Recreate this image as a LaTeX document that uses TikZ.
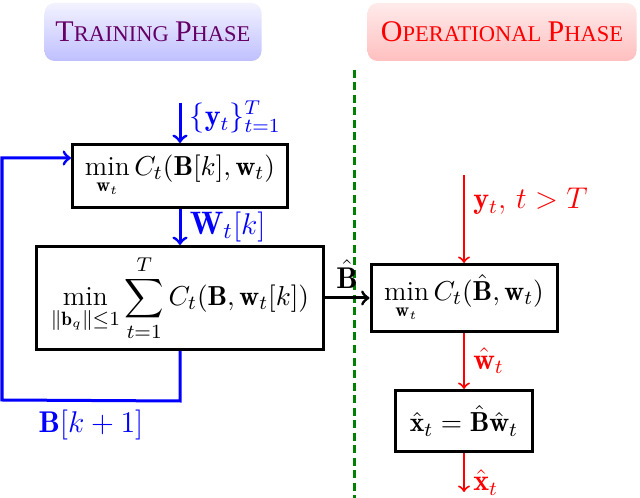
\documentclass[tikz,border=0pt]{standalone}
\usepackage{amsmath}
\usepackage{fontspec}
\newfontfamily\phasefont{Liberation Serif}
\newcommand{\fakesc}[2]{{\fontsize{12}{12}\selectfont #1}{\fontsize{9}{9}\selectfont #2}}
\begin{document}
\begin{tikzpicture}[x = .4pt, y = -.4pt,
    box/.style = {draw, very thick, inner sep = 0pt, font = \fontsize{11}{13}\selectfont},
    blueflow/.style = {very thick, blue, ->},
    redflow/.style = {thick, red, ->}]
      \useasboundingbox (0,0) rectangle (640,498);
      \node [rounded corners = 4pt, top color = blue!5, bottom color = blue!25, minimum width = 86.8pt, minimum height = 23.2pt, text = violet!80!black] (trainhead) at (153,32) {\phasefont\fakesc{T}{RAINING} \fakesc{P}{HASE}};
      \node [rounded corners = 4pt, top color = red!8, bottom color = red!25, minimum width = 107.6pt, minimum height = 23.2pt, text = red] (ophead) at (502,32) {\phasefont\fakesc{O}{PERATIONAL} \fakesc{P}{HASE}};
      \draw [very thick, green!50!black, dash pattern = on 3.2pt off 1.8pt] (354,70) -- (354,498);
      \node [box, minimum width = 86pt, minimum height = 25.2pt] (sparse) at (180,176) {$\displaystyle\min_{\mathbf{w}_t} C_t(\mathbf{B}[k], \mathbf{w}_t)$};
      \node [box, minimum width = 114.4pt, minimum height = 41.2pt] (dict) at (180,298) {$\displaystyle\min_{\|\mathbf{b}_q\|\leq 1} \sum_{t=1}^{T} C_t(\mathbf{B}, \mathbf{w}_t[k])$};
      \node [box, minimum width = 74.4pt, minimum height = 26.8pt] (opsparse) at (464,298) {$\displaystyle\min_{\mathbf{w}_t} C_t(\hat{\mathbf{B}}, \mathbf{w}_t)$};
      \node [box, minimum width = 54.8pt, minimum height = 24.4pt] (recon) at (464,421) {$\hat{\mathbf{x}}_t = \hat{\mathbf{B}}\hat{\mathbf{w}}_t$};
      \coordinate (datain) at (180,103);
      \coordinate (newdata) at (464,175);
      \coordinate (out) at (464,492);
      \coordinate (loopcorner) at (2,400);
      \draw [blueflow] (datain) -- node [right, pos = .35] {\large$\{\mathbf{y}_t\}_{t=1}^{T}$} (sparse);
      \draw [blueflow] (sparse) -- node [right] {\fontsize{13}{15}\selectfont$\mathbf{W}_t[k]$} (dict);
      \draw [blueflow] (dict.south) --++ (0,50) -- node [below] {\large$\mathbf{B}[k+1]$} (loopcorner) |- ([yshift = 7.2pt]sparse.west);
      \draw [very thick, ->] (dict) -- node [above] {\large$\hat{\mathbf{B}}$} (opsparse);
      \draw [redflow] (newdata) -- node [right, pos = .3] {\large$\mathbf{y}_t,\, t > T$} (opsparse);
      \draw [redflow] (opsparse) -- node [right] {\large$\hat{\mathbf{w}}_t$} (recon);
      \draw [redflow] (recon) -- node [right, pos = .75] {\large$\hat{\mathbf{x}}_t$} (out);
      \end{tikzpicture}
\end{document}
